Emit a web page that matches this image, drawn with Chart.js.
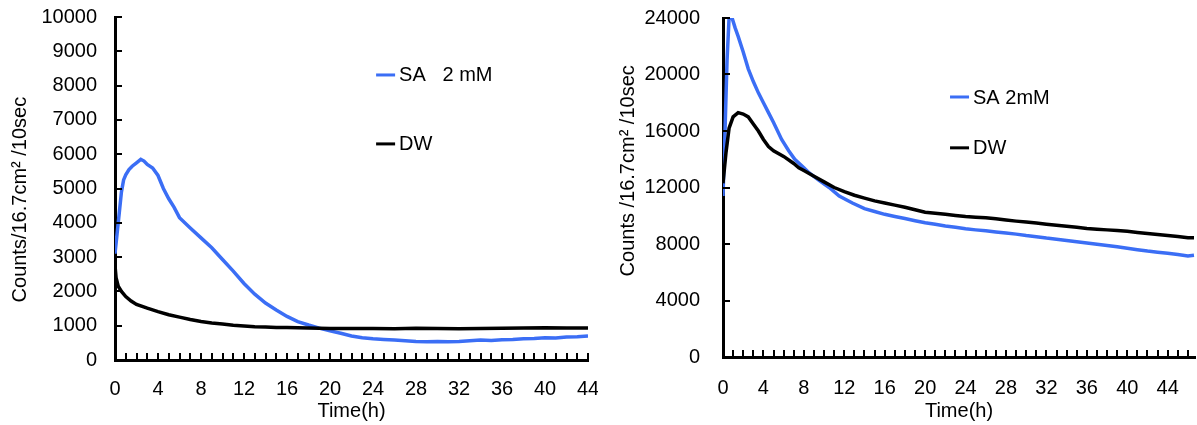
<!DOCTYPE html>
<html>
<head>
<meta charset="utf-8">
<script src="https://cdn.jsdelivr.net/npm/chart.js@4.4.1/dist/chart.umd.min.js"></script>
<style>
  html, body { margin: 0; padding: 0; background: #fff; }
  .panel { position: absolute; top: 0; height: 425px; }
  #left { left: 0; width: 598px; }
  #right { left: 598px; width: 599px; }
</style>
</head>
<body>
<div class="panel" id="left"><canvas id="c1"></canvas></div>
<div class="panel" id="right"><canvas id="c2"></canvas></div>
<script>
// ---- left panel: SA 2 mM vs DW
const leftSaTime = [0, 0.2, 0.4, 0.6, 0.8, 1.0, 1.3, 1.6, 2.0, 2.4, 2.7, 3.0, 3.5, 4.0, 4.5, 5.0, 5.5, 6, 7, 8, 9, 10, 11, 12, 13, 14, 15, 16, 17, 18, 19, 20, 21, 22, 23, 24, 25, 26, 27, 28, 29, 30, 31, 32, 33, 34, 35, 36, 37, 38, 39, 40, 41, 42, 43, 44];
const leftSaCounts = [3100, 3700, 4300, 4900, 5250, 5400, 5550, 5650, 5750, 5850, 5800, 5700, 5600, 5380, 5000, 4700, 4450, 4150, 3850, 3560, 3270, 2930, 2590, 2230, 1920, 1660, 1460, 1270, 1120, 1020, 930, 850, 780, 700, 650, 620, 600, 585, 560, 540, 530, 540, 530, 540, 560, 580, 570, 590, 600, 620, 630, 650, 640, 670, 680, 700];
const leftDwTime = [0, 0.1, 0.3, 0.6, 1, 1.5, 2, 3, 4, 5, 6, 7, 8, 9, 10, 11, 12, 13, 14, 15, 16, 17, 18, 19, 20, 22, 24, 26, 28, 30, 32, 34, 36, 38, 40, 42, 44];
const leftDwCounts = [2750, 2400, 2150, 2000, 1850, 1720, 1620, 1510, 1410, 1320, 1250, 1180, 1120, 1080, 1050, 1010, 990, 970, 960, 950, 945, 940, 935, 925, 920, 915, 920, 910, 925, 915, 910, 920, 925, 930, 940, 935, 930];

// ---- right panel: SA 2mM vs DW
const rightSaTime = [0, 0.2, 0.4, 0.6, 0.9, 1.2, 1.5, 2.0, 2.5, 3.0, 3.5, 4.0, 4.5, 5.0, 5.8, 6.5, 7.1, 8.0, 8.5, 9.5, 10.5, 11.5, 12.8, 14, 15, 16, 17, 18, 19, 20, 21, 22, 23, 24, 25, 26, 27, 28, 29, 30, 31, 32, 33, 34, 35, 36, 37, 38, 39, 40, 41, 42, 43, 44, 45, 46, 46.6];
const rightSaCounts = [11400, 16000, 21000, 24000, 24000, 23300, 22700, 21600, 20400, 19500, 18700, 18000, 17300, 16600, 15400, 14600, 14000, 13400, 13050, 12500, 12000, 11400, 10900, 10500, 10300, 10100, 9950, 9800, 9650, 9500, 9400, 9280, 9180, 9080, 9000, 8930, 8850, 8780, 8700, 8600, 8520, 8420, 8340, 8250, 8160, 8070, 7980, 7900, 7800, 7700, 7600, 7500, 7420, 7350, 7250, 7150, 7200];
const rightDwTime = [0, 0.3, 0.6, 1.0, 1.5, 2.0, 2.5, 3.0, 3.5, 4.0, 4.5, 5, 6, 7, 7.5, 8, 9, 10, 11, 12, 13, 14, 15, 16, 17, 18, 19, 20, 21, 22, 23, 24, 25, 26, 27, 28, 29, 30, 31, 32, 33, 34, 35, 36, 37, 38, 39, 40, 41, 42, 43, 44, 45, 46, 46.6];
const rightDwCounts = [12300, 14500, 16200, 17000, 17300, 17200, 17000, 16500, 16000, 15400, 14900, 14600, 14200, 13700, 13400, 13200, 12800, 12400, 12000, 11700, 11450, 11250, 11050, 10900, 10750, 10600, 10420, 10250, 10180, 10100, 10020, 9950, 9900, 9850, 9780, 9700, 9620, 9550, 9480, 9400, 9330, 9250, 9180, 9100, 9050, 9000, 8950, 8900, 8820, 8750, 8680, 8600, 8530, 8450, 8450];

const xTickLabels = [0, 4, 8, 12, 16, 20, 24, 28, 32, 36, 40, 44];
const leftYTicks = [0, 1000, 2000, 3000, 4000, 5000, 6000, 7000, 8000, 9000, 10000];
const rightYTicks = [0, 4000, 8000, 12000, 16000, 20000, 24000];

const BLUE = '#3b6ef5';
const FONT = '"Liberation Sans", Arial, sans-serif';

function points(times, counts) {
  return times.map((t, i) => ({ x: t, y: counts[i] }));
}

// tick marks drawn on the inside of the axes, as in the original
const inwardTicks = {
  id: 'inwardTicks',
  afterDraw(chart) {
    const { ctx, chartArea: a, scales: { x, y } } = chart;
    ctx.save();
    ctx.strokeStyle = '#000';
    ctx.lineWidth = 2;
    ctx.beginPath();
    x.ticks.forEach((t) => {
      const px = Math.round(x.getPixelForValue(t.value));
      ctx.moveTo(px, a.bottom);
      ctx.lineTo(px, a.bottom - 7);
    });
    y.ticks.forEach((t) => {
      const py = Math.round(y.getPixelForValue(t.value));
      ctx.moveTo(a.left, py);
      ctx.lineTo(a.left + 7, py);
    });
    ctx.stroke();
    ctx.restore();
  },
};

const legendInside = {
  id: 'legendInside',
  afterDraw(chart, args, opts) {
    const { ctx, chartArea: a } = chart;
    ctx.save();
    ctx.font = '20px ' + FONT;
    ctx.textBaseline = 'middle';
    chart.data.datasets.forEach((ds, i) => {
      const x = a.left + opts.x * a.width;
      const y = a.top + opts.y[i] * a.height;
      ctx.strokeStyle = ds.borderColor;
      ctx.lineWidth = 3;
      ctx.beginPath();
      ctx.moveTo(x, y);
      ctx.lineTo(x + 19, y);
      ctx.stroke();
      ctx.fillStyle = '#000';
      ctx.fillText(ds.label, x + 23, y + 1);
    });
    ctx.restore();
  },
};

function makeChart(id, o) {
  return new Chart(document.getElementById(id), {
    type: 'line',
    data: {
      datasets: [
        { label: o.saLabel, data: o.sa, borderColor: BLUE, order: 1 },
        { label: 'DW', data: o.dw, borderColor: '#000', order: 0 },
      ],
    },
    options: {
      responsive: true,
      maintainAspectRatio: false,
      animation: false,
      elements: { point: { radius: 0 }, line: { borderWidth: 3.5, tension: 0 } },
      layout: { padding: { top: o.padTop, right: o.padRight, left: 0, bottom: 0 } },
      plugins: {
        legend: { display: false },
        tooltip: { enabled: false },
        legendInside: { x: o.legX, y: o.legY },
      },
      scales: {
        x: {
          type: 'linear',
          min: 0,
          max: o.xMax,
          grid: { display: false, drawTicks: false },
          border: { display: true, color: '#000', width: 3 },
          afterFit: (s) => { s.height = o.xHeight; s.paddingLeft = 0; s.paddingRight = 0; },
          ticks: {
            stepSize: 1,
            includeBounds: false,
            autoSkip: false,
            maxTicksLimit: 100,
            maxRotation: 0,
            padding: o.xPad,
            color: '#000',
            font: { family: FONT, size: 20 },
            callback: (v) => (xTickLabels.includes(v) ? String(v) : ''),
          },
          title: { display: true, text: 'Time(h)', color: '#000', font: { family: FONT, size: 20 }, padding: { top: 0, bottom: 2 } },
        },
        y: {
          min: 0,
          max: o.yTicks[o.yTicks.length - 1],
          grid: { display: false, drawTicks: false },
          border: { display: true, color: '#000', width: 3 },
          afterFit: (s) => { s.width = o.yWidth; s.paddingTop = 0; s.paddingBottom = 0; },
          afterBuildTicks: (s) => { s.ticks = o.yTicks.map((v) => ({ value: v })); },
          ticks: {
            padding: o.yPad,
            color: '#000',
            font: { family: FONT, size: 20 },
            callback: (v) => String(v),
          },
          title: { display: true, text: o.yTitle, color: '#000', font: { family: FONT, size: 20 }, padding: { top: o.yTitlePad, bottom: 0 } },
        },
      },
    },
    plugins: [inwardTicks, legendInside],
  });
}

makeChart('c1', {
  saLabel: 'SA   2 mM',
  sa: points(leftSaTime, leftSaCounts),
  dw: points(leftDwTime, leftDwCounts),
  xMax: 44, yTicks: leftYTicks,
  padTop: 17, padRight: 10, xHeight: 65, yWidth: 115,
  xPad: 17, yPad: 18, yTitlePad: 8,
  yTitle: 'Counts/16.7cm² /10sec    ',
  legX: 0.552, legY: [0.169, 0.370],
});

makeChart('c2', {
  saLabel: 'SA 2mM',
  sa: points(rightSaTime, rightSaCounts),
  dw: points(rightDwTime, rightDwCounts),
  xMax: 46.7, yTicks: rightYTicks,
  padTop: 18, padRight: 2, xHeight: 68, yWidth: 125,
  xPad: 19, yPad: 23, yTitlePad: 18,
  yTitle: '      Counts /16.7cm² /10sec',
  legX: 0.481, legY: [0.233, 0.383],
});
</script>
</body>
</html>
